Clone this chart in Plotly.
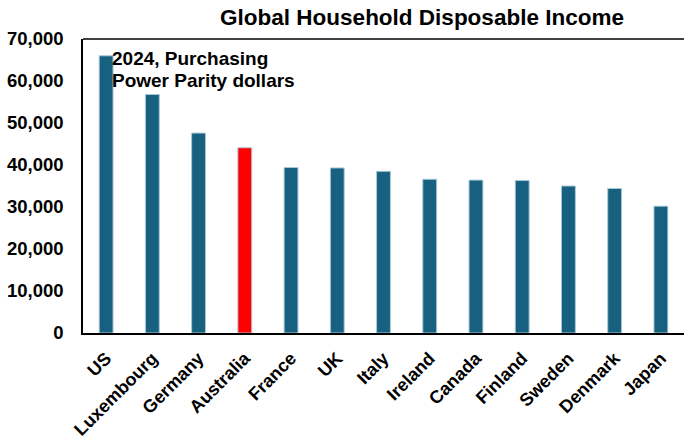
import plotly.graph_objects as go

countries = ["US", "Luxembourg", "Germany", "Australia", "France", "UK", "Italy",
             "Ireland", "Canada", "Finland", "Sweden", "Denmark", "Japan"]
income = [66000, 56800, 47600, 44100, 39400, 39300, 38500, 36600, 36400, 36300, 35000, 34400, 30200]
note_lines = ["2024, Purchasing", "Power Parity dollars"]
bar_colors = ["#17607f" if c != "Australia" else "#ff0000" for c in countries]

fig = go.Figure()
fig.add_trace(go.Bar(
    x=countries, y=income, marker_color=bar_colors,
    marker_line=dict(color="rgba(170,200,215,1)", width=1),
    width=0.3,
))

font_family = "Liberation Sans, Arial, sans-serif"
fig.update_layout(
    width=684, height=441,
    margin=dict(l=83, r=0, t=39, b=108),
    plot_bgcolor="white", paper_bgcolor="white",
    showlegend=False,
    font=dict(family=font_family, color="black"),
    title=dict(text="<b>Global Household Disposable Income</b>", x=0.617, xanchor="center",
               y=0.962, yanchor="middle", font=dict(size=22.5, family=font_family, color="black")),
    xaxis=dict(range=[-0.5, 12.5], showline=True, linecolor="black", linewidth=1.5, mirror=False,
               tickangle=-45, tickfont=dict(size=18, family=font_family, color="black", weight="bold"),
               ticks="", showgrid=False, ticklabelstandoff=6),
    yaxis=dict(range=[0, 70000], dtick=10000, tickformat=",d", showline=True, linecolor="black",
               linewidth=1.5, showgrid=False, ticks="", zeroline=False, ticklabelstandoff=14,
               tickfont=dict(size=18.5, family=font_family, color="black", weight="bold")),
    bargap=0.7,
)
fig.add_shape(type="line", xref="paper", yref="paper", x0=0, x1=1, y0=1, y1=1,
              line=dict(color="black", width=1.5))
for i, line in enumerate(note_lines):
    fig.add_annotation(x=0, y=1, xref="x domain", yref="y domain", xanchor="left", yanchor="middle",
                       xshift=27, yshift=-19 - 22 * i,
                       text=f"<b>{line}</b>", showarrow=False, align="left",
                       font=dict(size=19, family=font_family, color="black"))
fig.write_html("out.html")
